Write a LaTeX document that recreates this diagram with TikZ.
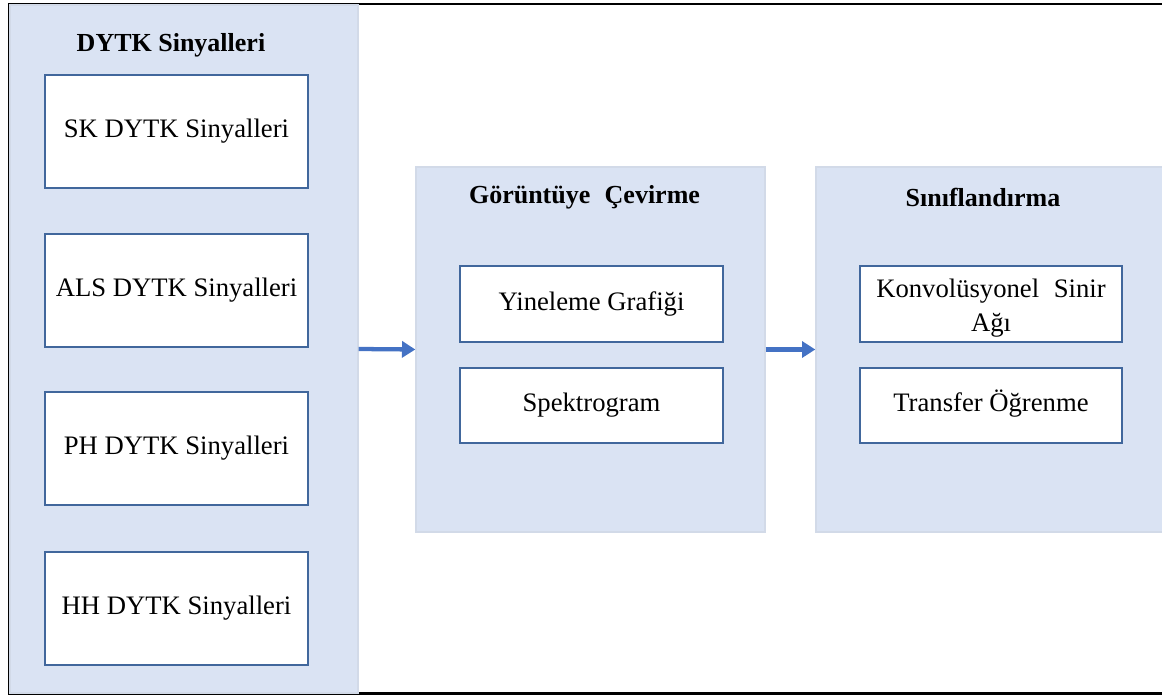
\documentclass[tikz,border=0pt]{standalone}
\usepackage{fontspec}
\setmainfont{Liberation Serif}
\usetikzlibrary{arrows.meta}
\definecolor{panelfill}{HTML}{DAE3F3}
\definecolor{paneledge}{HTML}{D2DAE8}
\definecolor{boxedge}{HTML}{41679C}
\definecolor{arrowblue}{HTML}{4472C4}
\tikzset{
  panel/.style={draw=paneledge, line width=1pt, fill=panelfill, inner sep=0pt, anchor=center},
  innerbox/.style={draw=boxedge, line width=1.1pt, fill=white, inner sep=0pt, align=center,
    font=\fontsize{20}{24}\selectfont},
  oneline/.style={text height=0.95em, text depth=0.05em},
  ptitle/.style={font=\fontsize{19.5}{23}\selectfont\bfseries, inner sep=0pt},
  arr/.style={draw=arrowblue, line width=3.2pt, -{Triangle[length=10pt,width=12pt]}},
}
\begin{document}
\begin{tikzpicture}[x=0.75pt,y=-0.75pt]
\useasboundingbox (0,0) rectangle (1162,695);
\clip (0,0) rectangle (1162,695);
% outer frame
\draw[black, line width=1.8pt] (9,4) rectangle (1175,693.5);
% panels
\node[panel, minimum width=348*0.75pt, minimum height=688*0.75pt] (left) at (184,349) {};
\node[panel, minimum width=349*0.75pt, minimum height=365*0.75pt] (mid) at (590.5,349.5) {};
\node[panel, minimum width=360*0.75pt, minimum height=365*0.75pt] (right) at (996,349.5) {};
% titles
\node[ptitle] (t1) at (171,45) {DYTK Sinyalleri};
\node[ptitle] (t2) at (584.5,197) {Görüntüye\hspace{0.3em} Çevirme};
\node[ptitle] (t3) at (983,197) {Sınıflandırma};
% left inner boxes
\node[innerbox, oneline, minimum width=263*0.75pt, minimum height=113*0.75pt] (sk) at (176.5,131.5) {SK DYTK Sinyalleri};
\node[innerbox, oneline, minimum width=263*0.75pt, minimum height=113*0.75pt] (als) at (176.5,290.5) {ALS DYTK Sinyalleri};
\node[innerbox, oneline, minimum width=263*0.75pt, minimum height=113*0.75pt] (ph) at (176.5,448.5) {PH DYTK Sinyalleri};
\node[innerbox, oneline, minimum width=263*0.75pt, minimum height=113*0.75pt] (hh) at (176.5,608.5) {HH DYTK Sinyalleri};
% middle inner boxes
\node[innerbox, oneline, minimum width=263*0.75pt, minimum height=76*0.75pt] (rp) at (591.5,304) {Yineleme Grafiği};
\node[innerbox, oneline, minimum width=263*0.75pt, minimum height=75*0.75pt] (sp) at (591.5,405.5) {Spektrogram};
% right inner boxes
\node[innerbox, minimum width=262*0.75pt, minimum height=76*0.75pt] (cnn) at (991,304) {\rule{0pt}{20pt}Konvolüsyonel\hspace{0.3em} Sinir\\[1pt]Ağı};
\node[innerbox, oneline, minimum width=262*0.75pt, minimum height=75*0.75pt] (tl) at (991,405.5) {Transfer Öğrenme};
% arrows
\draw[arr] (left.east) -- (mid.west);
\draw[arr] (mid.east) -- (right.west);
\end{tikzpicture}
\end{document}
